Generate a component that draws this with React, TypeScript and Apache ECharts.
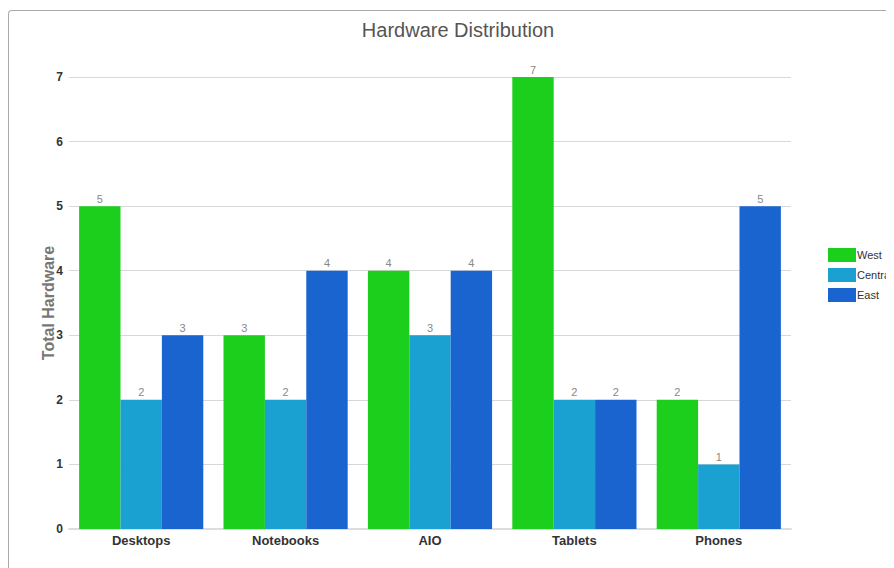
import React, { useEffect, useRef } from "react";
import * as echarts from "echarts";

const categories = ["Desktops", "Notebooks", "AIO", "Tablets", "Phones"];
const seriesNames = ["West", "Central", "East"];
const westValues = [5, 3, 4, 7, 2];
const centralValues = [2, 2, 3, 2, 1];
const eastValues = [3, 4, 4, 2, 5];
const seriesColors = ["#1ccf1c", "#1aa1d1", "#1a64d0"];

const FONT = "'Liberation Sans', Arial, sans-serif";

export default function App() {
  const ref = useRef<HTMLDivElement>(null);
  useEffect(() => {
    if (!ref.current) return;
    const chart = echarts.init(ref.current, undefined, { renderer: "svg" });
    const values = [westValues, centralValues, eastValues];
    chart.setOption({
      animation: false,
      textStyle: { fontFamily: FONT },
      graphic: [
        {
          type: "text",
          x: 449,
          y: 19,
          style: {
            text: "Hardware Distribution",
            fill: "#555",
            font: `20px ${FONT}`,
            textAlign: "center",
            textVerticalAlign: "middle",
          },
        },
      ],
      legend: {
        orient: "vertical",
        left: 814,
        top: 232,
        itemWidth: 28,
        itemHeight: 14,
        itemGap: 6,
        icon: "rect",
        textStyle: { fontSize: 11, color: "#333", padding: [0, 0, 0, -4] },
        data: seriesNames,
      },
      grid: { left: 60, right: 138, top: 66, bottom: 40, containLabel: false },
      xAxis: {
        type: "category",
        data: categories,
        axisTick: { show: false },
        axisLine: { show: true, lineStyle: { color: "#ddd", width: 2 } },
        axisLabel: { color: "#333", fontWeight: "bold", fontSize: 13, margin: 5 },
      },
      yAxis: {
        type: "value",
        min: 0,
        max: 7,
        interval: 1,
        name: "Total Hardware",
        nameLocation: "middle",
        nameGap: 13,
        nameMoveOverlap: false,
        nameTextStyle: { color: "#777", fontWeight: "bold", fontSize: 16 },
        axisLine: { show: false },
        axisTick: { show: false },
        axisLabel: { color: "#333", fontWeight: "bold", fontSize: 12, margin: 6 },
        splitLine: { lineStyle: { color: "#d8d8d8" } },
      },
      series: seriesNames.map((name, i) => ({
        name,
        type: "bar",
        data: values[i],
        barGap: "0%",
        barCategoryGap: "14%",
        itemStyle: { color: seriesColors[i] },
        label: { show: true, position: "top", distance: 2, color: "#888", fontSize: 11 },
      })),
    });
    return () => chart.dispose();
  }, []);
  return (
    <div
      style={{
        marginTop: 2,
        width: 885,
        height: 557,
        borderLeft: "1px solid #aaa",
        borderTop: "1px solid #aaa",
        borderTopLeftRadius: 4,
        overflow: "hidden",
      }}
    >
      <div ref={ref} style={{ width: 920, height: 558 }} />
    </div>
  );
}
